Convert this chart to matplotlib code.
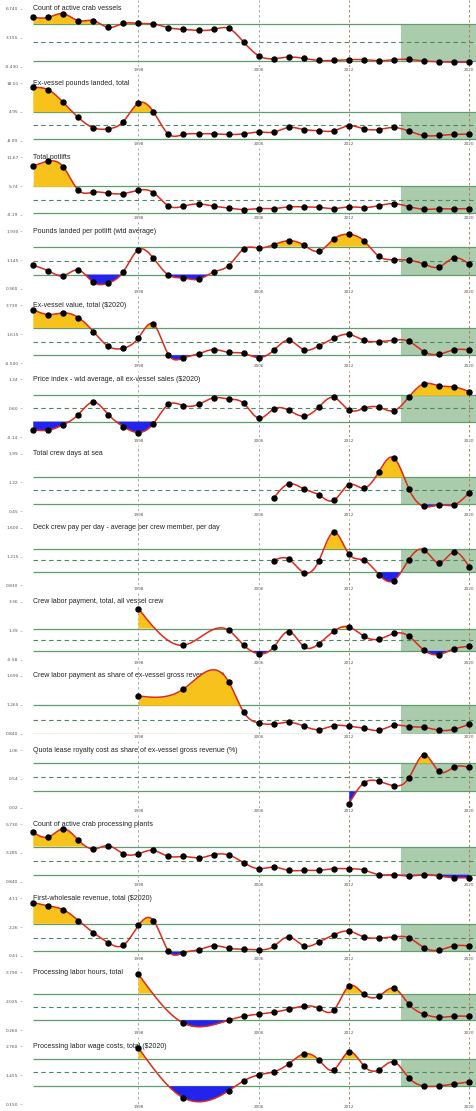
import numpy as np
import matplotlib.pyplot as plt

nan = np.nan
years = np.arange(1991, 2021)

titles = [
    "Count of active crab vessels",
    "Ex-vessel pounds landed, total",
    "Total potlifts",
    "Pounds landed per potlift (wtd average)",
    "Ex-vessel value, total (\\$2020)",
    "Price index - wtd average, all ex-vessel sales (\\$2020)",
    "Total crew days at sea",
    "Deck crew pay per day - average per crew member, per day",
    "Crew labor payment, total, all vessel crew",
    "Crew labor payment as share of ex-vessel gross revenue (%)",
    "Quota lease royalty cost as share of ex-vessel gross revenue (%)",
    "Count of active crab processing plants",
    "First-wholesale revenue, total (\\$2020)",
    "Processing labor hours, total",
    "Processing labor wage costs, total (\\$2020)",
]

vessels = [5.70, 5.70, 6.16, 5.29, 5.29, 4.45, 4.95, 4.95, 4.88, 4.42, 4.20, 4.08, 4.20, 4.33, 2.64,
           0.94, 0.56, 0.77, 0.60, 0.35, 0.35, 0.44, 0.44, 0.31, 0.44, 0.48, 0.28, 0.19, 0.15, 0.15]
pounds = [16.02, 14.98, 9.24, 2.45, -2.21, -2.66, 0.64, 8.96, 5.03, -5.06, -5.24, -4.92, -4.92, -5.24, -4.92,
          -4.15, -4.15, -2.07, -2.98, -3.56, -3.56, -1.30, -2.66, -2.98, -2.07, -3.70, -5.69, -5.69, -5.24, -5.06]
potlifts = [9.82, 10.85, 9.68, 4.89, 4.48, 4.27, 4.19, 4.89, 4.39, 1.66, 1.60, 2.07, 1.60, 1.25, 0.90,
            1.11, 1.11, 1.46, 1.46, 1.39, 1.11, 1.46, 1.31, 1.72, 2.13, 1.52, 0.98, 1.05, 1.05, 1.11]
lbs_potlift = [1.005, 0.850, 0.722, 0.877, 0.542, 0.523, 0.831, 1.429, 1.195, 0.741, 0.659, 0.624, 0.823, 0.994, 1.448,
               1.476, 1.565, 1.674, 1.557, 1.386, 1.720, 1.848, 1.674, 1.250, 1.157, 1.141, 1.040, 0.959, 1.203, 1.040]
exv_value = [3.42, 3.06, 3.18, 2.84, 1.81, 0.73, 0.59, 1.35, 2.35, 0.12, -0.12, 0.18, 0.49, 0.29, 0.22,
             -0.10, 0.44, 1.17, 0.49, 0.76, 1.32, 1.61, 1.17, 1.08, 1.17, 1.10, 0.34, 0.15, 0.47, 0.47]
price_index = [0.05, 0.04, 0.18, 0.44, 0.76, 0.44, 0.13, -0.02, 0.21, 0.70, 0.67, 0.70, 0.87, 0.84, 0.73,
               0.35, 0.58, 0.55, 0.40, 0.63, 0.88, 0.56, 0.60, 0.63, 0.54, 0.89, 1.23, 1.18, 1.15, 1.03]
crew_days = [nan] * 16 + [0.80, 1.18, 1.05, 0.89, 0.74, 1.16, 1.07, 1.50, 1.88, 1.05, 0.58, 0.62, 0.62, 0.94]
crew_pay_day = [nan] * 16 + [1.162, 1.181, 1.002, 1.154, 1.541, 1.251, 1.167, 0.975, 0.895, 1.175, 1.305,
                             1.131, 1.274, 1.082]
crew_payment = [nan] * 7 + [2.90, nan, nan, 0.40, nan, nan, 1.42,
                            0.40, -0.18, 0.26, 1.33, 0.31, 0.49, 1.35, 1.65, 1.01, 0.81, 1.20, 1.01, 0.06, -0.24,
                            0.15, 0.31]
crew_share = [nan] * 7 + [1.394, nan, nan, 1.497, nan, nan, 1.606,
                          1.158, 0.996, 0.981, 1.007, 0.952, 0.899, 0.958, 0.948, 0.918, 0.889, 0.962, 0.943,
                          0.933, 0.889, 0.903, 0.977]
quota_share = [nan] * 21 + [0.092, 0.465, 0.496, 0.417, 0.555, 0.975, 0.676, 0.748, 0.748]
plants = [5.03, 4.64, 5.32, 4.38, 3.62, 3.90, 3.22, 3.22, 3.50, 2.99, 2.99, 2.86, 3.14, 3.11, 2.46,
          1.95, 2.09, 1.81, 1.81, 1.81, 1.95, 1.95, 1.84, 1.44, 1.44, 1.33, 1.44, 1.33, 1.19, 1.19]
fw_revenue = [3.83, 3.62, 3.37, 2.68, 1.90, 1.25, 1.10, 2.36, 2.68, 0.72, 0.62, 0.80, 1.06, 0.90, 0.84,
              0.80, 1.02, 1.63, 1.06, 1.29, 1.76, 2.00, 1.63, 1.56, 1.63, 1.57, 0.94, 0.78, 1.05, 1.05]
proc_hours = [nan] * 7 + [3.67, nan, nan, 0.68, nan, nan, 0.86,
                          1.10, 1.23, 1.35, 1.53, 1.72, 1.59, 1.47, 2.94, 2.45, 2.33, 2.82, 1.84, 1.23, 1.04,
                          1.10, 1.10]
proc_wages = [nan] * 7 + [2.69, nan, nan, 0.43, nan, nan, 0.75,
                          1.20, 1.47, 1.61, 1.97, 2.42, 2.15, 1.70, 2.51, 1.88, 1.70, 2.06, 1.34, 0.97, 0.97,
                          1.06, 1.15]

series = [vessels, pounds, potlifts, lbs_potlift, exv_value, price_index, crew_days, crew_pay_day,
          crew_payment, crew_share, quota_share, plants, fw_revenue, proc_hours, proc_wages]

y_range = [(-0.430, 6.740), (-8.09, 18.01), (-0.19, 11.67), (0.360, 1.930), (-0.500, 3.730),
           (-0.14, 1.34), (0.45, 1.99), (0.830, 1.600), (-0.58, 3.36), (0.840, 1.690),
           (0.02, 1.06), (0.840, 5.730), (0.41, 4.11), (0.260, 3.790), (0.150, 2.760)]
y_labels = [["-0.430", "3.155", "6.740"], ["-8.09", "4.95", "18.01"], ["-0.19", "5.74", "11.67"],
            ["0.360", "1.145", "1.930"], ["-0.500", "1.615", "3.730"], ["-0.14", "0.60", "1.34"],
            ["0.45", "1.22", "1.99"], ["0.830", "1.215", "1.600"], ["-0.58", "1.39", "3.36"],
            ["0.840", "1.265", "1.690"], ["0.02", "0.54", "1.06"], ["0.840", "3.285", "5.730"],
            ["0.41", "2.26", "4.11"], ["0.260", "2.025", "3.790"], ["0.150", "1.455", "2.760"]]

x_ticks = [1998, 2006, 2012, 2020]
vline_colors = ['#9a9a9a', '#9a9a9a', '#b0703a', '#b0703a']
recent_start = 2015.5


def natural_spline(x, y, xs):
    n = len(x)
    h = np.diff(x)
    A = np.zeros((n, n))
    b = np.zeros(n)
    A[0, 0] = 1
    A[-1, -1] = 1
    for i in range(1, n - 1):
        A[i, i - 1] = h[i - 1]
        A[i, i] = 2 * (h[i - 1] + h[i])
        A[i, i + 1] = h[i]
        b[i] = 6 * ((y[i + 1] - y[i]) / h[i] - (y[i] - y[i - 1]) / h[i - 1])
    M = np.linalg.solve(A, b)
    j = np.clip(np.searchsorted(x, xs) - 1, 0, n - 2)
    x0, x1, hh = x[j], x[j + 1], x[j + 1] - x[j]
    return (M[j] * (x1 - xs) ** 3 / (6 * hh) + M[j + 1] * (xs - x0) ** 3 / (6 * hh)
            + (y[j] / hh - M[j] * hh / 6) * (x1 - xs) + (y[j + 1] / hh - M[j + 1] * hh / 6) * (xs - x0))


W, H = 476, 1111
pitch = 74.1
xmin, xmax = 1990.25, 2020.47

fig = plt.figure(figsize=(W / 100, H / 100), dpi=100)

for k, (title, vals) in enumerate(zip(titles, series)):
    lo, hi = y_range[k]
    top_tick = 9.0 + pitch * k
    ax_top, ax_bot = top_tick - 9.0, top_tick + 57.7
    ax = fig.add_axes([22 / W, 1 - ax_bot / H, 454 / W, (ax_bot - ax_top) / H])
    per_px = (hi - lo) / 57.7
    ax.set_ylim(lo, hi + 9.0 * per_px)
    ax.set_xlim(xmin, xmax)

    v = np.array(vals, dtype=float)
    ok = ~np.isnan(v)
    x, y = years[ok].astype(float), v[ok]
    m, s = y.mean(), y.std(ddof=1)

    ax.fill_between([recent_start, xmax], m - s, m + s, color='#2e7d32', alpha=0.4, lw=0, zorder=0)
    ax.hlines([m - s, m + s], years[0], xmax, color='#5e9e6e', lw=0.9, zorder=1)
    ax.hlines(m, years[0], xmax, color='#4a8a5e', lw=0.8, linestyles=(0, (4, 3)), zorder=1)
    for yr, c in zip(x_ticks, vline_colors):
        ax.axvline(yr, color=c, lw=0.6, ls=(0, (3, 3)), zorder=2)

    ax.text(1991, hi, title, fontsize=5.0, family='Liberation Sans', color='#222222',
            ha='left', va='center', zorder=1.5)

    xs = np.linspace(x[0], x[-1], 800)
    ys = natural_spline(x, y, xs)
    ax.fill_between(xs, ys, m + s, where=ys > m + s, interpolate=True, color='#f7c21c', lw=0, zorder=3)
    ax.fill_between(xs, ys, m - s, where=ys < m - s, interpolate=True, color='#2323ee', lw=0, zorder=3)
    ax.plot(xs, ys, color='#dd2a1b', lw=1.1, zorder=4)
    ax.plot(x, y, 'o', color='black', ms=3.6, zorder=5)

    ax.set_yticks([lo, (lo + hi) / 2, hi])
    ax.set_yticklabels(y_labels[k])
    ax.set_xticks(x_ticks)
    ax.set_xticklabels([str(t) for t in x_ticks])
    ax.tick_params(axis='y', length=1.5, width=0.4, color='#999999', labelsize=3.2,
                   labelcolor='#555555', pad=1)
    ax.tick_params(axis='x', length=0, labelsize=3.0, labelcolor='#555555', pad=1)
    for sp in ax.spines.values():
        sp.set_visible(False)

fig.savefig('out.png', dpi=100)
